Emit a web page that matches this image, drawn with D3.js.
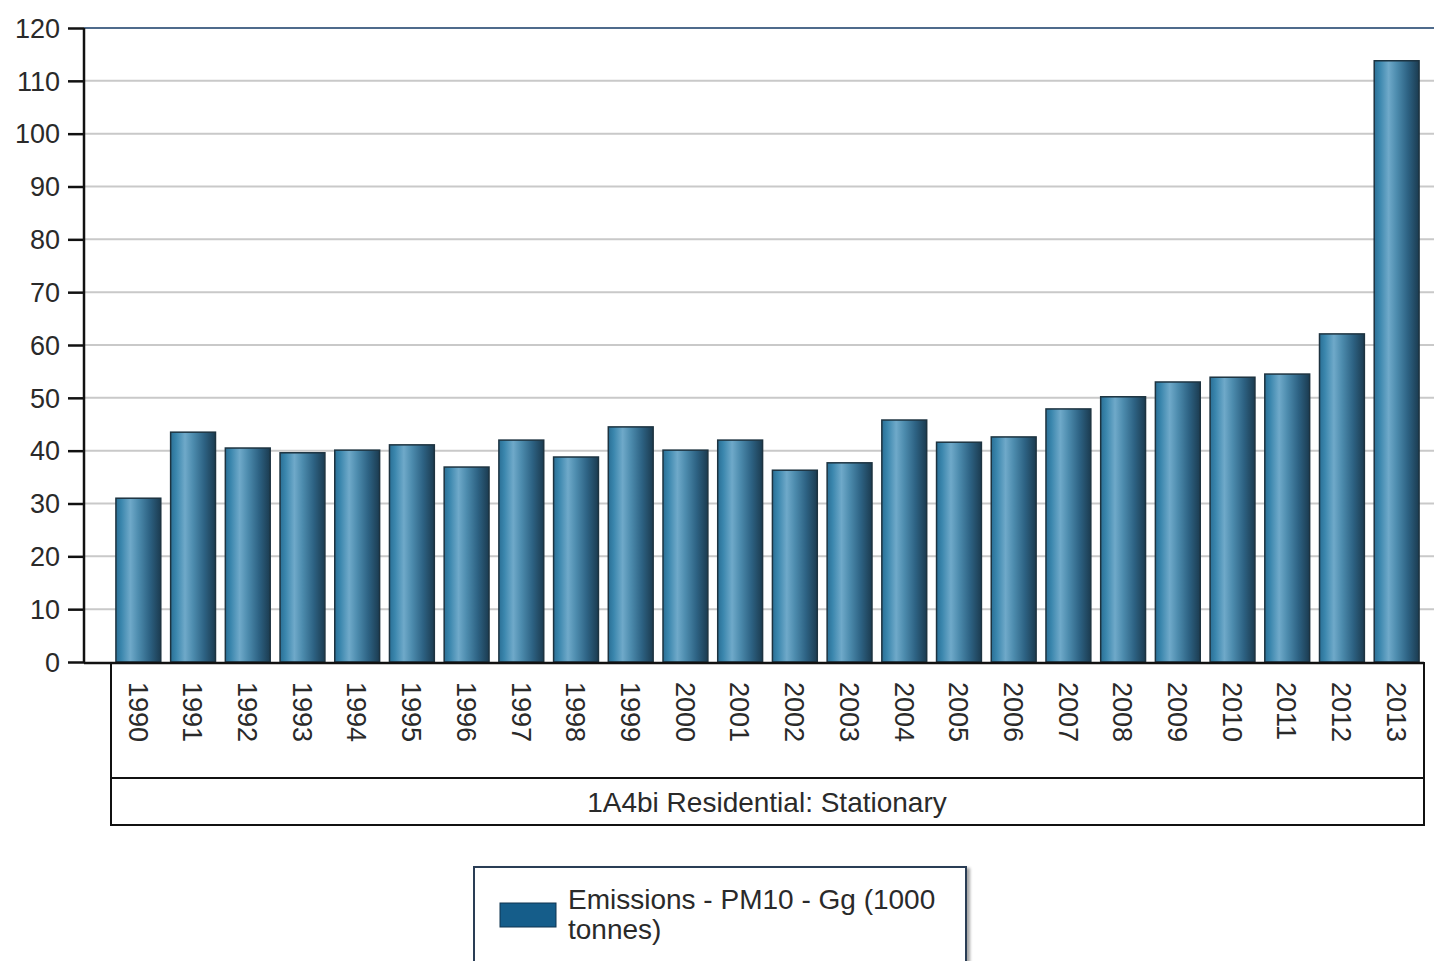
<!DOCTYPE html>
<html>
<head>
<meta charset="utf-8">
<script src="https://cdn.jsdelivr.net/npm/d3@7/dist/d3.min.js"></script>
<style>
html,body{margin:0;padding:0;background:#fff;}
svg{display:block;}
text{font-family:"Liberation Sans",Arial,sans-serif;fill:#2a2a2a;}
</style>
</head>
<body>
<svg id="chart" width="1434" height="961"></svg>
<script>
const years = ["1990","1991","1992","1993","1994","1995","1996","1997","1998","1999","2000","2001","2002","2003","2004","2005","2006","2007","2008","2009","2010","2011","2012","2013"];
const emissions = [31.0,43.5,40.5,39.6,40.1,41.1,36.9,42.0,38.8,44.5,40.1,42.0,36.3,37.7,45.8,41.6,42.6,47.9,50.2,53.0,53.9,54.5,62.1,113.8];
const yTicks = [0,10,20,30,40,50,60,70,80,90,100,110,120];
const categoryLabel = "1A4bi Residential: Stationary";
const legendLines = ["Emissions - PM10 - Gg (1000","tonnes)"];

(function(){
const svg = d3.select("#chart");
const W = 1434;
const axisX = 84, plotTop = 28, base = 662;
const boxL = 111, boxR = 1424, boxMid = 778, boxBot = 825;

const y = d3.scaleLinear().domain([0,120]).range([base, plotTop]);
const x = d3.scaleBand().domain(years).range([boxL, boxR]).paddingInner(0.18).paddingOuter(0.09);

const defs = svg.append("defs");
const g = defs.append("linearGradient").attr("id","barGrad").attr("x1","0").attr("x2","1").attr("y1","0").attr("y2","0");
[["0%","#2a6f95"],["12%","#3a86ad"],["32%","#6fa9c9"],["50%","#4d8cae"],["75%","#2d6283"],["100%","#1b3b50"]]
  .forEach(s=>g.append("stop").attr("offset",s[0]).attr("stop-color",s[1]));
const sh = defs.append("filter").attr("id","shadow").attr("x","-10%").attr("y","-10%").attr("width","130%").attr("height","130%");
sh.append("feDropShadow").attr("dx",3).attr("dy",2).attr("stdDeviation",1.5).attr("flood-color","#000").attr("flood-opacity",0.35);

// gridlines
svg.append("g").selectAll("line").data(yTicks.filter(t=>t>0 && t<120)).join("line")
  .attr("x1",axisX).attr("x2",W).attr("y1",d=>y(d)).attr("y2",d=>y(d))
  .attr("stroke","#c9c9c9").attr("stroke-width",2);
svg.append("line").attr("x1",axisX).attr("x2",W).attr("y1",y(120)).attr("y2",y(120))
  .attr("stroke","#4f6b8c").attr("stroke-width",2);

// bars
svg.append("g").selectAll("rect").data(years).join("rect")
  .attr("x",d=>x(d)).attr("width",x.bandwidth())
  .attr("y",(d,i)=>y(emissions[i])).attr("height",(d,i)=>base - y(emissions[i]))
  .attr("fill","url(#barGrad)").attr("stroke","#1d3340").attr("stroke-width",1.5);

// y axis
const yAxis = d3.axisLeft(y).tickValues(yTicks).tickSize(16).tickPadding(8).tickFormat(d3.format("d"));
const ya = svg.append("g").attr("transform",`translate(${axisX},0)`).call(yAxis);
ya.select(".domain").attr("stroke","#111").attr("stroke-width",2.5).attr("d",`M0,${plotTop}V${base}`);
ya.selectAll(".tick line").attr("stroke","#111").attr("stroke-width",2.5);
ya.selectAll(".tick text").attr("font-size",27).attr("fill","#2a2a2a").attr("dy","0.34em").style("font-family","'Liberation Sans',Arial,sans-serif");

// baseline
svg.append("line").attr("x1",axisX).attr("x2",boxR).attr("y1",base+1).attr("y2",base+1).attr("stroke","#111").attr("stroke-width",2.5);

// category box
const box = svg.append("g").attr("stroke","#111").attr("stroke-width",2).attr("fill","none");
box.append("path").attr("d",`M${boxL},${base}V${boxBot}H${boxR}V${base}`);
box.append("line").attr("x1",boxL).attr("x2",boxR).attr("y1",boxMid).attr("y2",boxMid);

// x labels via axis
const xAxis = d3.axisBottom(x).tickSize(0).tickPadding(0);
const xa = svg.append("g").attr("transform",`translate(0,${base})`).call(xAxis);
xa.select(".domain").remove();
xa.selectAll(".tick text")
  .attr("font-size",27).attr("fill","#2a2a2a")
  .attr("text-anchor","start")
  .attr("transform","translate(0,20) rotate(90)")
  .attr("x",0).attr("y",0).attr("dy","0.36em")
  .style("font-family","'Liberation Sans',Arial,sans-serif");

svg.append("text").attr("x",767).attr("y",(boxMid+boxBot)/2).attr("dy","0.36em")
  .attr("text-anchor","middle").attr("font-size",28).text(categoryLabel);

// legend
const lg = svg.append("g");
lg.append("rect").attr("x",474).attr("y",867).attr("width",492).attr("height",110)
  .attr("fill","#fff").attr("stroke","#2b3e55").attr("stroke-width",2).attr("filter","url(#shadow)");
lg.append("rect").attr("x",500).attr("y",903).attr("width",56).attr("height",24).attr("fill","#155d8a").attr("stroke","#0f3550").attr("stroke-width",1);
legendLines.forEach((t,i)=>lg.append("text").attr("x",568).attr("y",909+i*30).attr("font-size",28).text(t));
})();
</script>
</body>
</html>
